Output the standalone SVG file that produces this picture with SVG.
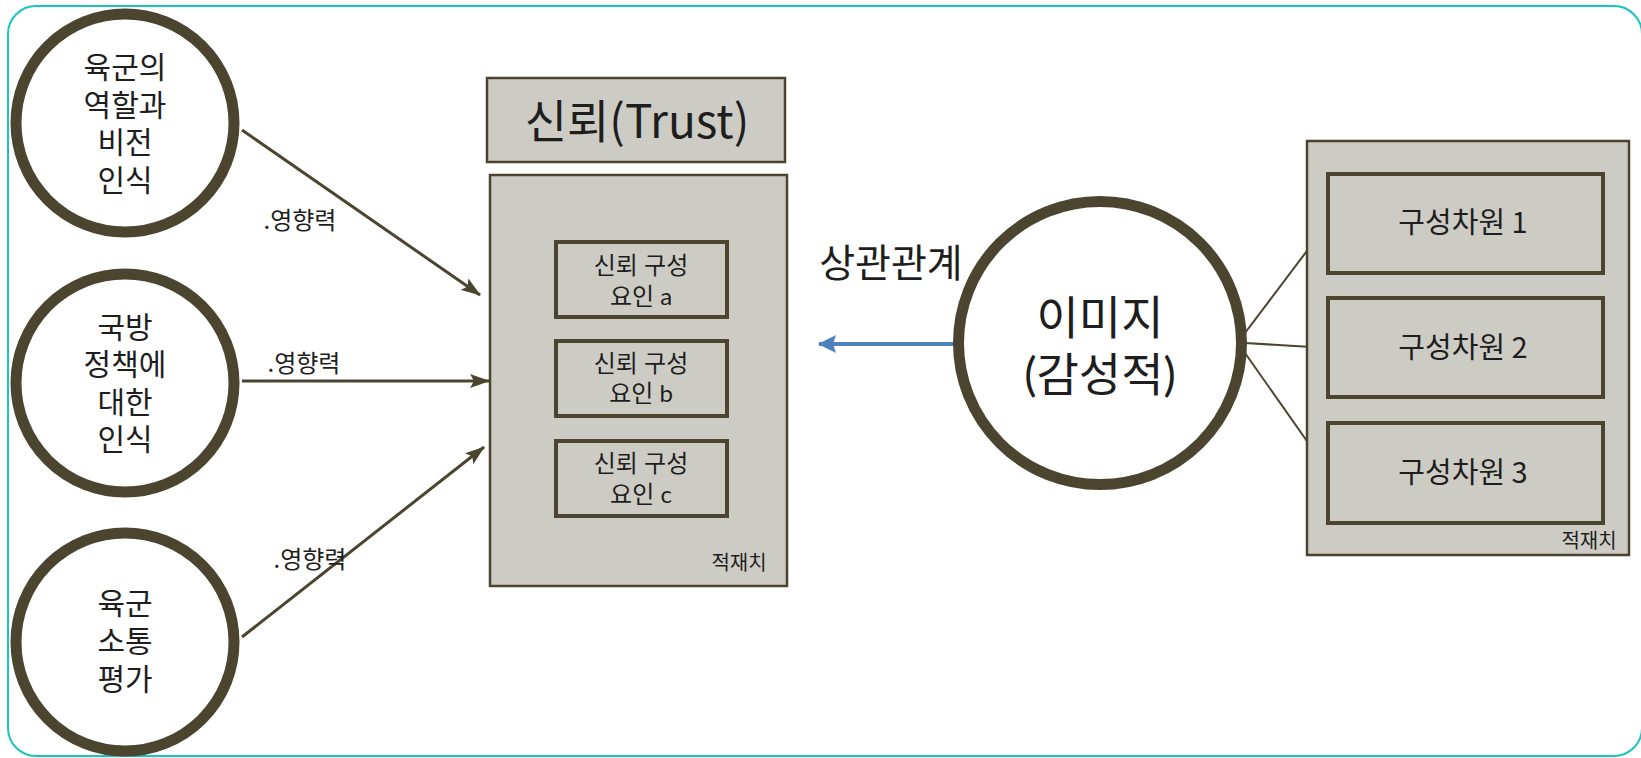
<svg xmlns="http://www.w3.org/2000/svg" width="1641" height="758" viewBox="0 0 1641 758">
<style>
.circ{fill:#fff;stroke:#4b452f;stroke-width:11}
.box{fill:#cdccc4;stroke:#4b452f;stroke-width:2.5}
.inner{fill:#cdccc4;stroke:#4b452f;stroke-width:4}
.t{font-family:"Noto Sans CJK KR","Noto Sans",sans-serif;fill:#1e1e1e;text-anchor:middle}
.m{font-family:Lato,"Noto Sans CJK KR",sans-serif;fill:#1e1e1e;text-anchor:middle}
.conn{stroke:#4b452f;stroke-width:3;fill:none}
</style>
<defs>
<marker id="ah" viewBox="0 0 20 14" refX="19" refY="7" markerWidth="20" markerHeight="14" markerUnits="userSpaceOnUse" orient="auto">
<path d="M0,0 L20,7 L0,14 L4,7 z" fill="#4b452f"/>
</marker>
<marker id="ahb" viewBox="0 0 18 18" refX="17" refY="9" markerWidth="18" markerHeight="18" markerUnits="userSpaceOnUse" orient="auto">
<path d="M0,0 L18,9 L0,18 L3,9 z" fill="#4f81bd"/>
</marker>
</defs>
<rect x="0" y="0" width="1641" height="758" fill="#fff"/>
<rect x="8" y="6" width="1634" height="750" rx="28" fill="none" stroke="#1cc4bf" stroke-width="2"/>

<g id="connectors">
<line class="conn" x1="242" y1="130" x2="480" y2="295" marker-end="url(#ah)"/>
<line class="conn" x1="242" y1="381" x2="489" y2="381" marker-end="url(#ah)"/>
<line class="conn" x1="242" y1="637" x2="484" y2="447" marker-end="url(#ah)"/>
<line x1="957" y1="344" x2="819" y2="344" stroke="#4f81bd" stroke-width="4" marker-end="url(#ahb)"/>
<line class="conn" x1="1245" y1="333" x2="1328" y2="223" style="stroke-width:2"/>
<line class="conn" x1="1245" y1="343" x2="1328" y2="348" style="stroke-width:2"/>
<line class="conn" x1="1245" y1="353" x2="1328" y2="471" style="stroke-width:2"/>
<text class="t" x="300" y="229" font-size="24">.영향력</text>
<text class="t" x="304" y="372" font-size="24">.영향력</text>
<text class="t" x="310" y="568" font-size="24">.영향력</text>
<text class="t" x="891" y="277" font-size="39">상관관계</text>
</g>

<g id="circle1">
<circle class="circ" cx="125" cy="123" r="109"/>
<text class="m" font-size="30" x="125" y="78"><tspan x="125">육군의</tspan><tspan x="125" dy="37.7">역할과</tspan><tspan x="125" dy="37.7">비전</tspan><tspan x="125" dy="37.7">인식</tspan></text>
</g>
<g id="circle2">
<circle class="circ" cx="125" cy="383" r="109"/>
<text class="m" font-size="30" x="125" y="338"><tspan x="125">국방</tspan><tspan x="125" dy="37.3">정책에</tspan><tspan x="125" dy="37.3">대한</tspan><tspan x="125" dy="37.3">인식</tspan></text>
</g>
<g id="circle3">
<circle class="circ" cx="125" cy="642" r="109"/>
<text class="m" font-size="30" x="125" y="614"><tspan x="125">육군</tspan><tspan x="125" dy="38">소통</tspan><tspan x="125" dy="38">평가</tspan></text>
</g>

<g id="trust-title">
<rect class="box" x="487" y="78" width="298" height="84"/>
<text class="t" font-size="46" x="637" y="138">신뢰(Trust)</text>
</g>
<g id="trust-box">
<rect class="box" x="490" y="175" width="297" height="411"/>
<text class="t" font-size="20" x="739" y="570">적재치</text>
</g>
<g id="factor-a">
<rect class="inner" x="556" y="242" width="171" height="75"/>
<text class="m" font-size="24" x="641" y="274"><tspan x="641">신뢰 구성</tspan><tspan x="641" dy="31">요인 a</tspan></text>
</g>
<g id="factor-b">
<rect class="inner" x="556" y="341" width="171" height="75"/>
<text class="m" font-size="24" x="641" y="372"><tspan x="641">신뢰 구성</tspan><tspan x="641" dy="30">요인 b</tspan></text>
</g>
<g id="factor-c">
<rect class="inner" x="556" y="441" width="171" height="75"/>
<text class="m" font-size="24" x="641" y="472"><tspan x="641">신뢰 구성</tspan><tspan x="641" dy="31">요인 c</tspan></text>
</g>

<g id="image">
<circle class="circ" cx="1100" cy="343" r="141.5"/>
<text class="m" font-size="46" x="1100" y="334"><tspan x="1100">이미지</tspan><tspan x="1100" dy="57">(감성적)</tspan></text>
</g>

<g id="dim-box">
<rect class="box" x="1307" y="141" width="322" height="414"/>
<text class="t" font-size="20" x="1589" y="548">적재치</text>
</g>
<g id="dim1">
<rect class="inner" x="1328" y="174" width="275" height="99"/>
<text class="t" font-size="29" x="1463" y="233">구성차원 1</text>
</g>
<g id="dim2">
<rect class="inner" x="1328" y="298" width="275" height="99"/>
<text class="t" font-size="29" x="1463" y="358">구성차원 2</text>
</g>
<g id="dim3">
<rect class="inner" x="1328" y="423" width="275" height="100"/>
<text class="t" font-size="29" x="1463" y="483">구성차원 3</text>
</g>
</svg>
